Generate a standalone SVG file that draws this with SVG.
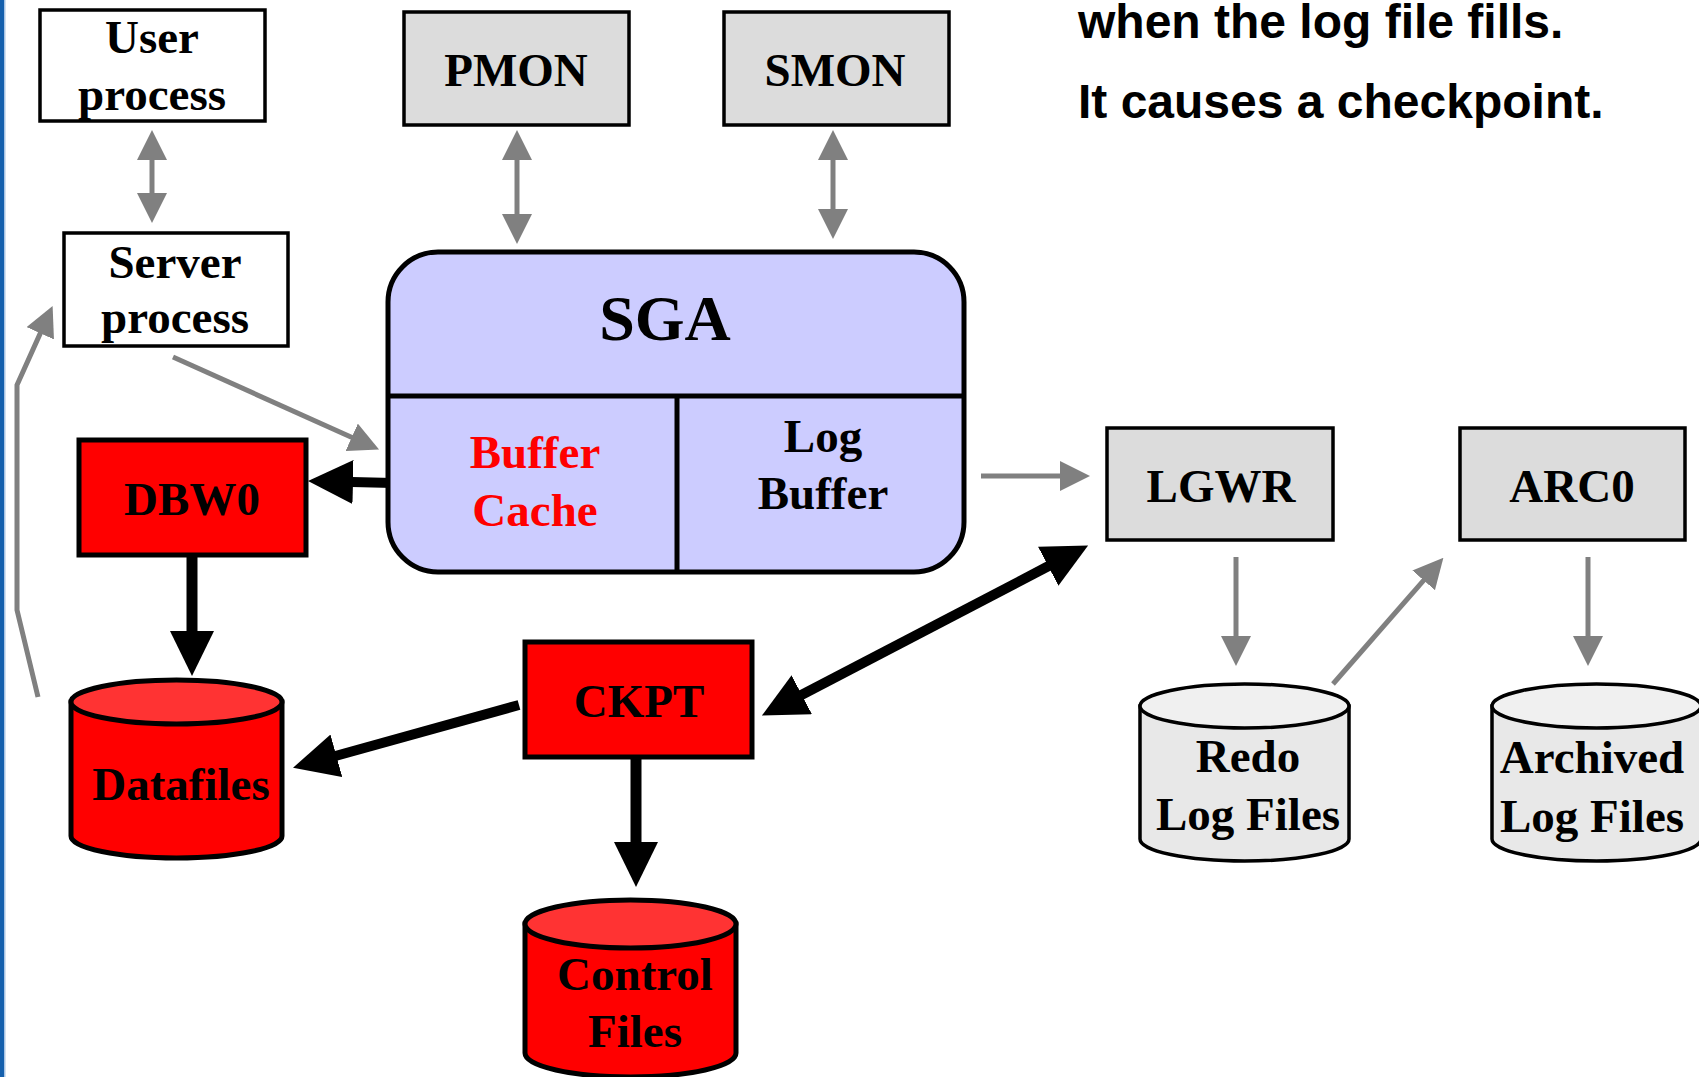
<svg xmlns="http://www.w3.org/2000/svg" width="1699" height="1077" viewBox="0 0 1699 1077">
<style>
.t{font-family:"Liberation Serif","Times New Roman",serif;font-weight:bold;font-size:47px;text-anchor:middle;fill:#000}
.s{font-family:"Liberation Sans",Arial,sans-serif;font-weight:bold;font-size:48px;fill:#000}
.wbox{fill:#fff;stroke:#000;stroke-width:3.5}
.gbox{fill:#dcdcdc;stroke:#000;stroke-width:3.5}
.rbox{fill:#ff0000;stroke:#000;stroke-width:5}
.ga{stroke:#808080;stroke-width:5;fill:none}
.ba{stroke:#000;stroke-width:10;fill:none}
.rcyl{fill:#ff0000;stroke:#000;stroke-width:5}
.rtop{fill:#ff3333;stroke:#000;stroke-width:5}
.gcyl{fill:#e8e8e8;stroke:#000;stroke-width:3.5}
.gtop{fill:#f0f0f0;stroke:#000;stroke-width:3.5}
</style>
<defs>
<marker id="gh" markerUnits="userSpaceOnUse" viewBox="0 -15 30 30" refX="1" refY="0" markerWidth="30" markerHeight="30" orient="auto-start-reverse"><path d="M0,-15 L30,0 L0,15 z" fill="#808080"/></marker>
<marker id="bh" markerUnits="userSpaceOnUse" viewBox="0 -22 45 44" refX="1" refY="0" markerWidth="45" markerHeight="44" orient="auto-start-reverse"><path d="M0,-22 L45,0 L0,22 z" fill="#000"/></marker>
</defs>
<rect x="0" y="0" width="1699" height="1077" fill="#fff"/>
<rect x="0" y="0" width="4" height="1077" fill="#1560ad"/>
<rect x="4" y="0" width="1.5" height="1077" fill="#a8c4e4"/>

<g id="note">
<text class="s" x="1078" y="38">when the log file fills.</text>
<text class="s" x="1078" y="118">It causes a checkpoint.</text>
</g>

<g id="connectors">
<line class="ga" x1="152" y1="159" x2="152" y2="194" marker-start="url(#gh)" marker-end="url(#gh)"/>
<line class="ga" x1="517" y1="159" x2="517" y2="215" marker-start="url(#gh)" marker-end="url(#gh)"/>
<line class="ga" x1="833" y1="159" x2="833" y2="210" marker-start="url(#gh)" marker-end="url(#gh)"/>
<line class="ga" x1="173" y1="357" x2="352.6" y2="437.7" marker-end="url(#gh)"/>
<path class="ga" d="M38,697 L17,610 L17,385 L40.7,332.4" marker-end="url(#gh)"/>
<line class="ga" x1="981" y1="476" x2="1061" y2="476" marker-end="url(#gh)"/>
<line class="ga" x1="1236" y1="557" x2="1236" y2="637" marker-end="url(#gh)"/>
<line class="ga" x1="1588" y1="557" x2="1588" y2="637" marker-end="url(#gh)"/>
<line class="ga" x1="1333" y1="684" x2="1424.3" y2="579.6" marker-end="url(#gh)"/>
<line class="ba" x1="393" y1="483" x2="352" y2="482" marker-end="url(#bh)"/>
<line class="ba" x1="192" y1="555" x2="192" y2="632" marker-end="url(#bh)" style="stroke-width:11"/>
<line class="ba" x1="519" y1="705" x2="335.4" y2="756" marker-end="url(#bh)"/>
<line class="ba" x1="636" y1="758" x2="636" y2="843" marker-end="url(#bh)" style="stroke-width:11"/>
<line class="ba" x1="800.9" y1="695.2" x2="1049.1" y2="565.8" marker-start="url(#bh)" marker-end="url(#bh)"/>
</g>

<g id="user-process">
<rect class="wbox" x="40" y="10" width="225" height="111"/>
<text class="t" x="152" y="53">User</text>
<text class="t" x="152" y="110">process</text>
</g>
<g id="server-process">
<rect class="wbox" x="64" y="233" width="224" height="113"/>
<text class="t" x="175" y="278">Server</text>
<text class="t" x="175" y="333">process</text>
</g>
<g id="pmon">
<rect class="gbox" x="404" y="12" width="225" height="113"/>
<text class="t" x="516" y="86">PMON</text>
</g>
<g id="smon">
<rect class="gbox" x="724" y="12" width="225" height="113"/>
<text class="t" x="835" y="86">SMON</text>
</g>
<g id="sga">
<rect x="388" y="252" width="576" height="320" rx="50" ry="50" fill="#ccccff" stroke="#000" stroke-width="5"/>
<line x1="388" y1="396" x2="964" y2="396" stroke="#000" stroke-width="5"/>
<line x1="677" y1="396" x2="677" y2="572" stroke="#000" stroke-width="5"/>
<text class="t" x="665" y="340" style="font-size:64px">SGA</text>
<text class="t" x="535" y="468" style="fill:#ff0000">Buffer</text>
<text class="t" x="535" y="526" style="fill:#ff0000">Cache</text>
<text class="t" x="823" y="452">Log</text>
<text class="t" x="823" y="509">Buffer</text>
</g>
<g id="dbw0">
<rect class="rbox" x="79" y="440" width="227" height="115"/>
<text class="t" x="192" y="515">DBW0</text>
</g>
<g id="ckpt">
<rect class="rbox" x="525" y="642" width="227" height="115"/>
<text class="t" x="639" y="717">CKPT</text>
</g>
<g id="lgwr">
<rect class="gbox" x="1107" y="428" width="226" height="112"/>
<text class="t" x="1221" y="502">LGWR</text>
</g>
<g id="arc0">
<rect class="gbox" x="1460" y="428" width="225" height="112"/>
<text class="t" x="1572" y="502">ARC0</text>
</g>
<g id="datafiles">
<path class="rcyl" d="M71,702 L71,836 A105.5,22 0 0 0 282,836 L282,702 z"/>
<ellipse class="rtop" cx="176.5" cy="702" rx="105.5" ry="22"/>
<text class="t" x="181" y="800">Datafiles</text>
</g>
<g id="control-files">
<path class="rcyl" d="M525,924 L525,1053 A105.5,24 0 0 0 736,1053 L736,924 z"/>
<ellipse class="rtop" cx="630.5" cy="924" rx="105.5" ry="24"/>
<text class="t" x="635" y="990">Control</text>
<text class="t" x="635" y="1047">Files</text>
</g>
<g id="redo-log-files">
<path class="gcyl" d="M1140,706 L1140,839 A104.5,22 0 0 0 1349,839 L1349,706 z"/>
<ellipse class="gtop" cx="1244.5" cy="706" rx="104.5" ry="22"/>
<text class="t" x="1248" y="772">Redo</text>
<text class="t" x="1248" y="830">Log Files</text>
</g>
<g id="archived-log-files">
<path class="gcyl" d="M1492,706 L1492,839 A104.5,22 0 0 0 1701,839 L1701,706 z"/>
<ellipse class="gtop" cx="1596.5" cy="706" rx="104.5" ry="22"/>
<text class="t" x="1592" y="773">Archived</text>
<text class="t" x="1592" y="832">Log Files</text>
</g>
</svg>
